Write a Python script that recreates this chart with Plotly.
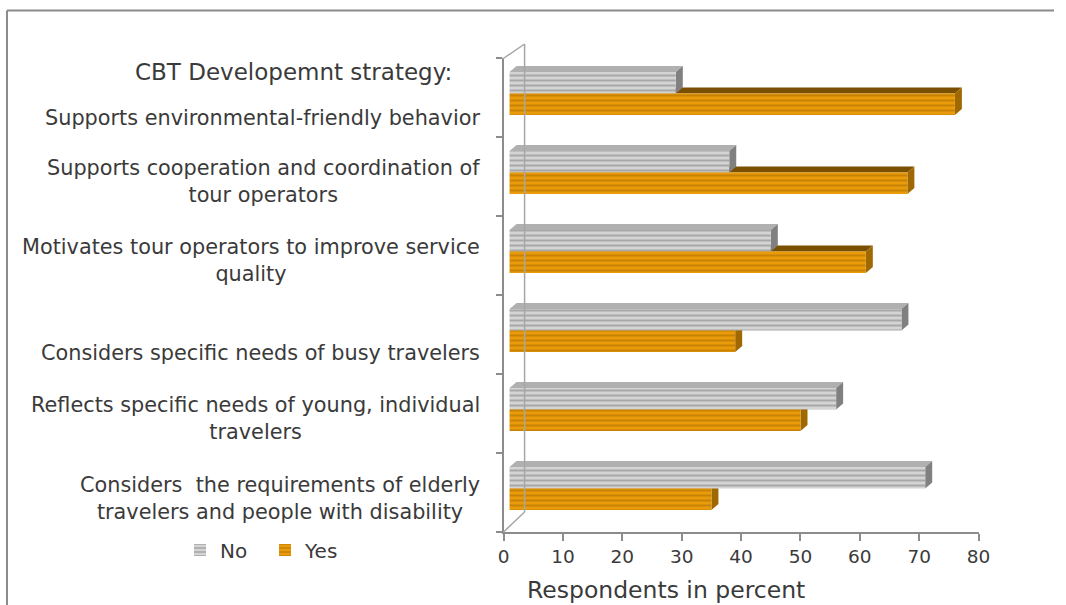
import plotly.graph_objects as go

# ---- data -------------------------------------------------------------
categories = [
    "Supports environmental-friendly behavior",
    "Supports cooperation and coordination of<br>tour operators",
    "Motivates tour operators to improve service<br>quality",
    "Considers specific needs of busy travelers",
    "Reflects specific needs of young, individual<br>travelers",
    "Considers  the requirements of elderly<br>travelers and people with disability",
]
no_values = [28, 37, 44, 66, 55, 70]
yes_values = [75, 67, 60, 38, 49, 34]
series_names = ["No", "Yes"]
x_ticks = [0, 10, 20, 30, 40, 50, 60, 70, 80]
header_text = "CBT Developemnt strategy:"
axis_title = "Respondents in percent"

# ---- geometry (layout pixels) ------------------------------------------
W, H = 1066, 605
X0_PX, X80_PX = 506.1, 989.3      # floor front edge: 0 .. 80
Y_TOP_PX, Y_BOT_PX = 58, 532      # category band
FACE_DX_PX, FACE_DY_PX = 6.1, 4   # bar front plane offset from floor front edge
DEPTH_DX_PX, DEPTH_DY_PX = 7.1, 6 # bar depth projection
WALL_X_PX = 527.5
FRAME_X_PX, FRAME_Y_PX = 1.0, 10.5
LABEL_RIGHT_PX = 484
HEADER_RIGHT_PX = 456
TITLE_CENTER_PX = 671

n = len(categories)
px_per_x = (X80_PX - X0_PX) / 80.0
px_per_cat = (Y_BOT_PX - Y_TOP_PX) / n
bar_w = 21.5 / px_per_cat
dxu = DEPTH_DX_PX / px_per_x
dyu = DEPTH_DY_PX / px_per_cat
label_shift_px = [20.5, 5, 5, 18.5, 4.5, 5.5]

FONT = "DejaVu Sans"
TEXT = "#3a3a3a"
AXIS = "#8c8c8c"

no_style = dict(front="#d4d4d4", stripe="#7c7c7c", top="#b0b0b0", side="#808080")
yes_style = dict(front="#e99b0a", stripe="#a56c00", top="#7a5000", side="#a06800")


def px_x(p):
    return p / W


def px_y(p):
    return (H - p) / H


positions = list(range(n))
fig = go.Figure()
for name, vals, st, off in [
    (series_names[0], no_values, no_style, -bar_w),
    (series_names[1], yes_values, yes_style, 0.0),
]:
    fig.add_trace(go.Bar(
        name=name, x=vals, y=positions, orientation="h",
        width=bar_w, offset=off, xaxis="x2", yaxis="y2",
        marker=dict(color=st["front"], line=dict(width=0),
                    pattern=dict(shape="-", fgcolor=st["stripe"], bgcolor=st["front"],
                                 size=5, solidity=0.4)),
        hovertext=[c.replace("<br>", " ") for c in categories],
    ))


def poly(pts):
    return "M " + " L ".join(f"{x:.4f},{y:.4f}" for x, y in pts) + " Z"


shapes = []
for i in range(n):
    for vals, st, y_top in [(yes_values, yes_style, i), (no_values, no_style, i - bar_w)]:
        v = vals[i]
        top = [(0, y_top), (dxu, y_top - dyu), (v + dxu, y_top - dyu), (v, y_top)]
        side = [(v, y_top), (v + dxu, y_top - dyu), (v + dxu, y_top + bar_w - dyu), (v, y_top + bar_w)]
        shapes.append(dict(type="path", path=poly(top), xref="x2", yref="y2",
                           fillcolor=st["top"], line=dict(width=0), layer="below"))
        shapes.append(dict(type="path", path=poly(side), xref="x2", yref="y2",
                           fillcolor=st["side"], line=dict(width=0), layer="below"))

# back wall and floor edges
wall = dict(color="#a6a6a6", width=1.5)
shapes += [
    dict(type="line", xref="paper", yref="paper", x0=px_x(WALL_X_PX), y0=px_y(44),
         x1=px_x(WALL_X_PX), y1=px_y(512), line=wall),
    dict(type="line", xref="paper", yref="paper", x0=px_x(X0_PX - 1), y0=px_y(59),
         x1=px_x(WALL_X_PX), y1=px_y(44), line=wall),
    dict(type="line", xref="paper", yref="paper", x0=px_x(X0_PX), y0=px_y(532),
         x1=px_x(WALL_X_PX), y1=px_y(512), line=wall),
    # outer frame
    dict(type="line", xref="paper", yref="paper", x0=px_x(FRAME_X_PX), y0=px_y(FRAME_Y_PX),
         x1=1.0, y1=px_y(FRAME_Y_PX), line=dict(color="#8a8a8a", width=2)),
    dict(type="line", xref="paper", yref="paper", x0=px_x(FRAME_X_PX), y0=px_y(FRAME_Y_PX),
         x1=px_x(FRAME_X_PX), y1=0.0, line=dict(color="#8a8a8a", width=2)),
]

annotations = [dict(text=header_text, x=px_x(HEADER_RIGHT_PX), y=px_y(72), xref="paper",
                    yref="paper", xanchor="right", yanchor="middle", showarrow=False,
                    font=dict(family=FONT, size=23, color=TEXT))]
for i, cat in enumerate(categories):
    annotations.append(dict(text=cat, x=px_x(LABEL_RIGHT_PX), y=i, xref="paper", yref="y",
                            xanchor="right", yanchor="middle", align="center",
                            yshift=-label_shift_px[i], showarrow=False,
                            font=dict(family=FONT, size=20.8, color=TEXT)))
annotations.append(dict(text=axis_title, x=px_x(TITLE_CENTER_PX), y=px_y(590), xref="paper",
                        yref="paper", xanchor="center", yanchor="middle", showarrow=False,
                        font=dict(family=FONT, size=23.5, color=TEXT)))

x_dom = [px_x(X0_PX), px_x(X80_PX)]
y_dom = [px_y(Y_BOT_PX), px_y(Y_TOP_PX)]
fx = FACE_DX_PX / px_per_x
fy = FACE_DY_PX / px_per_cat

fig.update_layout(
    width=W, height=H, margin=dict(l=0, r=0, t=0, b=0),
    paper_bgcolor="white", plot_bgcolor="white",
    font=dict(family=FONT, color=TEXT),
    barmode="overlay", shapes=shapes, annotations=annotations,
    xaxis=dict(domain=x_dom, range=[0, 80], tickvals=x_ticks, showline=True, linecolor=AXIS,
               linewidth=1.5, ticks="outside", ticklen=7, tickcolor=AXIS, tickwidth=1.5,
               tickfont=dict(family=FONT, size=18.5, color=TEXT), showgrid=False,
               zeroline=False, anchor="y"),
    yaxis=dict(domain=y_dom, range=[n - 0.5, -0.5], tickvals=[k - 0.5 for k in range(n + 1)],
               showticklabels=False, ticks="outside", ticklen=6, tickcolor=AXIS, tickwidth=1.5,
               showline=True, linecolor=AXIS, linewidth=1.5, showgrid=False, zeroline=False,
               anchor="x"),
    xaxis2=dict(overlaying="x", range=[-fx, 80 - fx], visible=False, anchor="y2"),
    yaxis2=dict(overlaying="y", range=[n - 0.5 + fy, -0.5 + fy], visible=False, anchor="x2"),
    legend=dict(orientation="h", x=px_x(177), y=px_y(550), xanchor="left", yanchor="middle",
                entrywidth=40, entrywidthmode="pixels",
                font=dict(family=FONT, size=20, color=TEXT), bgcolor="rgba(0,0,0,0)"),
    showlegend=True,
)

fig.write_html("out.html")
